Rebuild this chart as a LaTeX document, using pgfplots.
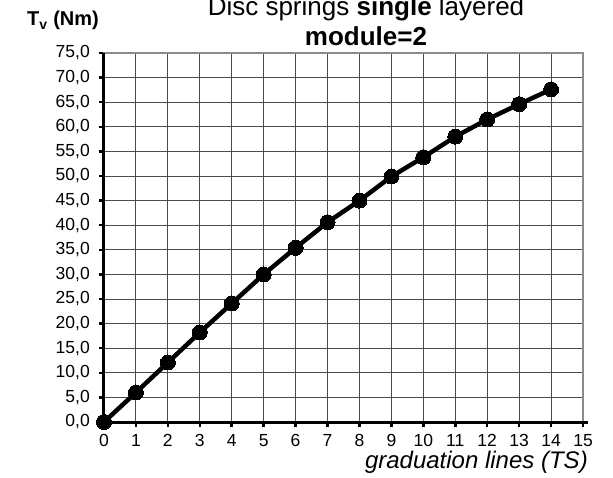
\documentclass[border=0pt]{standalone}
\usepackage{pgfplots}
\pgfplotsset{compat=1.18}
\usepackage{fontspec}
\setmainfont{Liberation Sans}
\begin{document}
\begin{tikzpicture}
\begin{axis}[
  at={(0pt,0pt)}, anchor=origin,
  scale only axis, width=479pt, height=369pt,
  xmin=0, xmax=15, ymin=0, ymax=75,
  xtick={0,1,...,15}, ytick={0,5,...,75},
  grid=major,
  major grid style={black!70, line width=0.9pt},
  axis line style={black!45, line width=2pt},
  tick align=outside,
  major tick length=5pt,
  tick style={black, line width=2.5pt},
  xtick pos=bottom, ytick pos=left,
  /pgf/number format/assume math mode=true,
  xticklabel={\pgfmathprintnumber{\tick}},
  yticklabel={\pgfmathprintnumber[fixed, fixed zerofill, precision=1, use comma]{\tick}},
  tick label style={font=\fontsize{17.5}{20}\selectfont, inner sep=0pt},
  yticklabel style={anchor=east, xshift=-9pt},
  xticklabel style={anchor=north, text height=12.5pt, text depth=0pt, yshift=-7pt},
  clip=false,
]
\addplot[black, line width=4.5pt, mark=*, mark size=7.5pt, mark options={solid, fill=black, draw=black, line width=0pt}]
  coordinates {(0,0) (1,6.0) (2,12.1) (3,18.2) (4,24.1) (5,30.0) (6,35.4) (7,40.6) (8,45.0) (9,49.9) (10,53.8) (11,58.0) (12,61.5) (13,64.6) (14,67.6)};
\draw[black, line width=3pt] (rel axis cs:0,1) -- (rel axis cs:0,0) -- ([xshift=5pt]rel axis cs:1,0);
\end{axis}
\node[anchor=base] at (262pt,406pt) {\fontsize{26}{30}\selectfont Disc springs \textbf{single} layered};
\node[anchor=base] at (262pt,376pt) {\fontsize{26}{30}\selectfont\bfseries module=2};
\node[anchor=base west, inner sep=0pt] at (-77pt,396pt) {\fontsize{20}{24}\selectfont\bfseries T\textsubscript{v} (Nm)};
\node[anchor=base east, inner sep=0pt] at (484pt,-46pt) {\fontsize{24}{28}\selectfont\itshape graduation lines (TS)};
\pgfresetboundingbox
\path[use as bounding box] (-104pt,-55pt) rectangle (509pt,422pt);
\end{tikzpicture}
\end{document}
